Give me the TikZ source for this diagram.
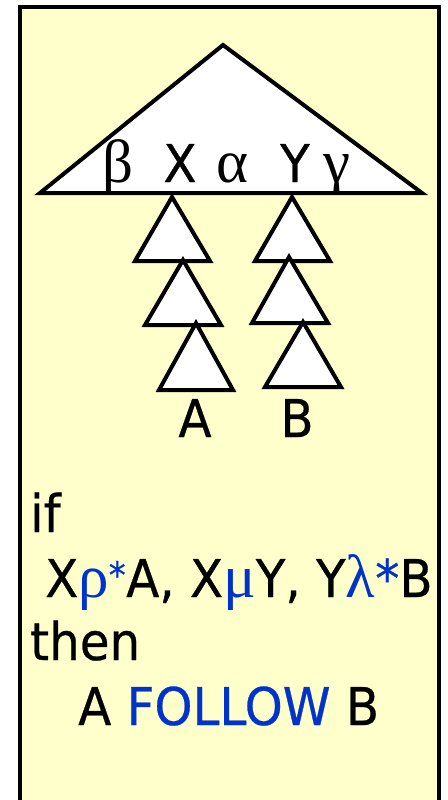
\documentclass[tikz,border=0pt]{standalone}
\usepackage{fontspec}
\setmainfont{DejaVu Sans}[FakeStretch=0.93, FakeBold=0.5]
\newfontfamily\greekfont{Liberation Serif}
\definecolor{notepaper}{HTML}{FFFFCC}
\definecolor{relblue}{HTML}{0033CC}
\newcommand{\gk}[1]{{\greekfont\fontsize{61}{64}\selectfont #1}}
\newcommand{\rel}[1]{\textcolor{relblue}{#1}}

\begin{document}
\begin{tikzpicture}[x=1pt, y=-1pt,
    tree/.style={draw, fill=white, line width=4pt, line join=miter},
    word/.style={inner sep=0pt, anchor=base, font=\fontsize{52}{62}\selectfont},
    line/.style={word, anchor=base west}
  ]
  \clip (0,0) rectangle (447,800);
  \draw[line width=3.5pt, fill=notepaper] (20,7) rectangle (439,812);
  % the whole derivation tree
  \draw[tree] (223,45) -- (422,193) -- (40,193) -- cycle;
  \node[word] (beta)  at (118,182) {\gk{β}};
  \node[word] (x)     at (180,182) {X};
  \node[word] (alpha) at (232,182) {\gk{α}};
  \node[word] (y)     at (295,182) {Y};
  \node[word] (gamma) at (337,182) {\gk{γ}};
  % chains below X and Y
  \foreach \ax/\ay/\bl/\br/\by in {172/197/135/210/261, 183/260/145/221/325,
      196/323/159/233/390, 292/197/255/330/261, 289/257/252/328/323,
      303/322/265/341/387} {
    \draw[tree] (\ax,\ay) -- (\br,\by) -- (\bl,\by) -- cycle;
  }
  \node[word] (leafA) at (195,437) {A};
  \node[word] (leafB) at (297,437) {B};
  % the rule
  \node[line] (ifline)   at (30,532) {if};
  \node[line] (cond)     at (45,597) {X\rel{\gk{ρ}\textsuperscript{*}}A, X\rel{\gk{μ}}Y, Y\rel{\gk{λ}*}B};
  \node[line] (thenline) at (30,660) {then};
  \node[line] (concl)    at (78,725) {A \rel{FOLLOW} B};
\end{tikzpicture}
\end{document}
